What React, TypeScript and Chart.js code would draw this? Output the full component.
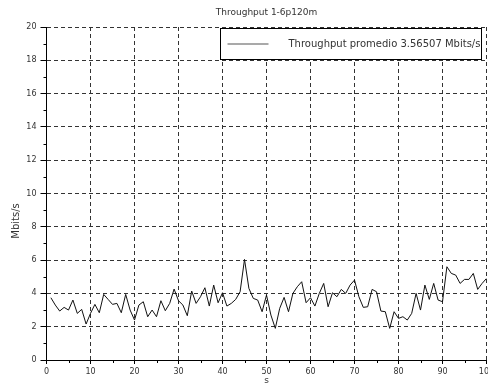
import React, { useEffect, useRef } from "react";
import { Chart, registerables } from "chart.js";

Chart.register(...registerables);

const chartTitle = "Throughput 1-6p120m";
const legendLabel = "Throughput promedio 3.56507 Mbits/s";
const xAxisLabel = "s";
const yAxisLabel = "Mbits/s";

const seconds = [
  1, 2, 3, 4, 5, 6, 7, 8, 9, 10,
  11, 12, 13, 14, 15, 16, 17, 18, 19, 20,
  21, 22, 23, 24, 25, 26, 27, 28, 29, 30,
  31, 32, 33, 34, 35, 36, 37, 38, 39, 40,
  41, 42, 43, 44, 45, 46, 47, 48, 49, 50,
  51, 52, 53, 54, 55, 56, 57, 58, 59, 60,
  61, 62, 63, 64, 65, 66, 67, 68, 69, 70,
  71, 72, 73, 74, 75, 76, 77, 78, 79, 80,
  81, 82, 83, 84, 85, 86, 87, 88, 89, 90,
  91, 92, 93, 94, 95, 96, 97, 98, 99, 100,
];

const throughput = [
  3.74, 3.3, 2.94, 3.16, 3.0, 3.6, 2.8, 3.04, 2.16, 2.8,
  3.34, 2.84, 3.94, 3.64, 3.34, 3.4, 2.84, 3.94, 3.0, 2.4,
  3.3, 3.5, 2.6, 3.0, 2.6, 3.56, 2.96, 3.4, 4.26, 3.56,
  3.3, 2.66, 4.14, 3.4, 3.8, 4.34, 3.24, 4.5, 3.44, 4.04,
  3.24, 3.4, 3.64, 4.1, 6.04, 4.3, 3.7, 3.6, 2.9, 3.9,
  2.7, 1.9, 3.1, 3.76, 2.9, 4.0, 4.4, 4.7, 3.44, 3.74,
  3.24, 4.0, 4.6, 3.2, 4.04, 3.8, 4.24, 4.0, 4.5, 4.8,
  3.8, 3.16, 3.2, 4.24, 4.1, 2.94, 2.9, 1.9, 2.9, 2.5,
  2.6, 2.4, 2.8, 4.0, 3.0, 4.5, 3.64, 4.6, 3.6, 3.5,
  5.6, 5.2, 5.1, 4.6, 4.84, 4.84, 5.2, 4.24, 4.6, 4.9,
];

const xMinorTicks = [5, 15, 25, 35, 45, 55, 65, 75, 85, 95];
const yMinorTicks = [1, 3, 5, 7, 9, 11, 13, 15, 17, 19];

const FONT = "'DejaVu Sans', sans-serif";
const TEXT = "#333";

const decorPlugin = {
  id: "decor",
  afterDatasetsDraw(chart: any) {
    const { ctx, chartArea, scales } = chart;
    const xs = scales.x;
    const ys = scales.y;
    ctx.save();
    ctx.strokeStyle = "#000";
    ctx.lineWidth = 1;
    ctx.beginPath();
    for (const v of xMinorTicks) {
      const px = Math.round(xs.getPixelForValue(v)) + 0.5;
      ctx.moveTo(px, chartArea.bottom);
      ctx.lineTo(px, chartArea.bottom + 3);
    }
    for (const v of yMinorTicks) {
      const py = Math.round(ys.getPixelForValue(v)) + 0.5;
      ctx.moveTo(chartArea.left - 3, py);
      ctx.lineTo(chartArea.left, py);
    }
    ctx.stroke();

    const bx = Math.round(chartArea.right - 267) + 0.5;
    const by = Math.round(chartArea.top + 1) + 0.5;
    const bw = 261;
    const bh = 31;
    ctx.fillStyle = "#fff";
    ctx.fillRect(bx, by, bw, bh);
    ctx.strokeStyle = "#000";
    ctx.strokeRect(bx, by, bw, bh);
    ctx.strokeStyle = "#555";
    ctx.lineWidth = 1.2;
    ctx.beginPath();
    ctx.moveTo(bx + 7, by + 15.5);
    ctx.lineTo(bx + 48, by + 15.5);
    ctx.stroke();
    ctx.fillStyle = TEXT;
    ctx.font = `10px ${FONT}`;
    ctx.textAlign = "left";
    ctx.textBaseline = "middle";
    ctx.fillText(legendLabel, bx + 68, by + 16);

    ctx.font = `9px ${FONT}`;
    ctx.textAlign = "center";
    ctx.fillText(chartTitle, (chartArea.left + chartArea.right) / 2, 13);

    ctx.fillText(xAxisLabel, (chartArea.left + chartArea.right) / 2, 381);

    ctx.translate(16, 221);
    ctx.rotate(-Math.PI / 2);
    ctx.font = `10px ${FONT}`;
    ctx.fillText(yAxisLabel, 0, 0);
    ctx.restore();
  },
};

export default function App() {
  const ref = useRef<HTMLCanvasElement | null>(null);

  useEffect(() => {
    if (!ref.current) return;
    const points = seconds.map((s, i) => ({ x: s, y: throughput[i] }));
    const chart = new Chart(ref.current, {
      type: "line",
      data: {
        datasets: [
          {
            label: legendLabel,
            data: points,
            borderColor: "#111",
            borderWidth: 1,
            pointRadius: 0,
            tension: 0,
            fill: false,
          },
        ],
      },
      options: {
        animation: false,
        responsive: false,
        layout: { padding: { top: 27, right: 1.5, left: 0, bottom: 0 }, autoPadding: false },
        plugins: {
          legend: { display: false },
          title: { display: false },
          tooltip: { enabled: false },
        },
        scales: {
          x: {
            type: "linear",
            min: 0,
            max: 100,
            afterFit: (s: any) => {
              s.height = 25;
              s.paddingLeft = 0;
              s.paddingRight = 0;
            },
            ticks: {
              stepSize: 10,
              color: TEXT,
              font: { family: FONT, size: 8 },
              padding: 3.5,
              maxRotation: 0,
              autoSkip: false,
            },
            grid: {
              color: "#333",
              lineWidth: 1,
              drawTicks: true,
              tickLength: 4,
              tickColor: "#000",
              tickBorderDash: [],
            },
            border: { display: true, color: "#000", width: 1, dash: [4, 3] },
          },
          y: {
            type: "linear",
            min: 0,
            max: 20,
            afterFit: (s: any) => {
              s.width = 46.5;
              s.paddingTop = 0;
              s.paddingBottom = 0;
            },
            ticks: {
              stepSize: 2,
              color: TEXT,
              font: { family: FONT, size: 8 },
              padding: 4,
              autoSkip: false,
            },
            grid: {
              color: "#333",
              lineWidth: 1,
              drawTicks: true,
              tickLength: 6,
              tickColor: "#000",
              tickBorderDash: [],
            },
            border: { display: true, color: "#000", width: 1, dash: [4, 3] },
          },
        },
      } as any,
      plugins: [decorPlugin],
    });
    return () => chart.destroy();
  }, []);

  return (
    <div style={{ position: "absolute", left: 0, top: 0, width: 488, height: 385, background: "#fff" }}>
      <canvas ref={ref} width={488} height={385} style={{ display: "block" }} />
    </div>
  );
}
